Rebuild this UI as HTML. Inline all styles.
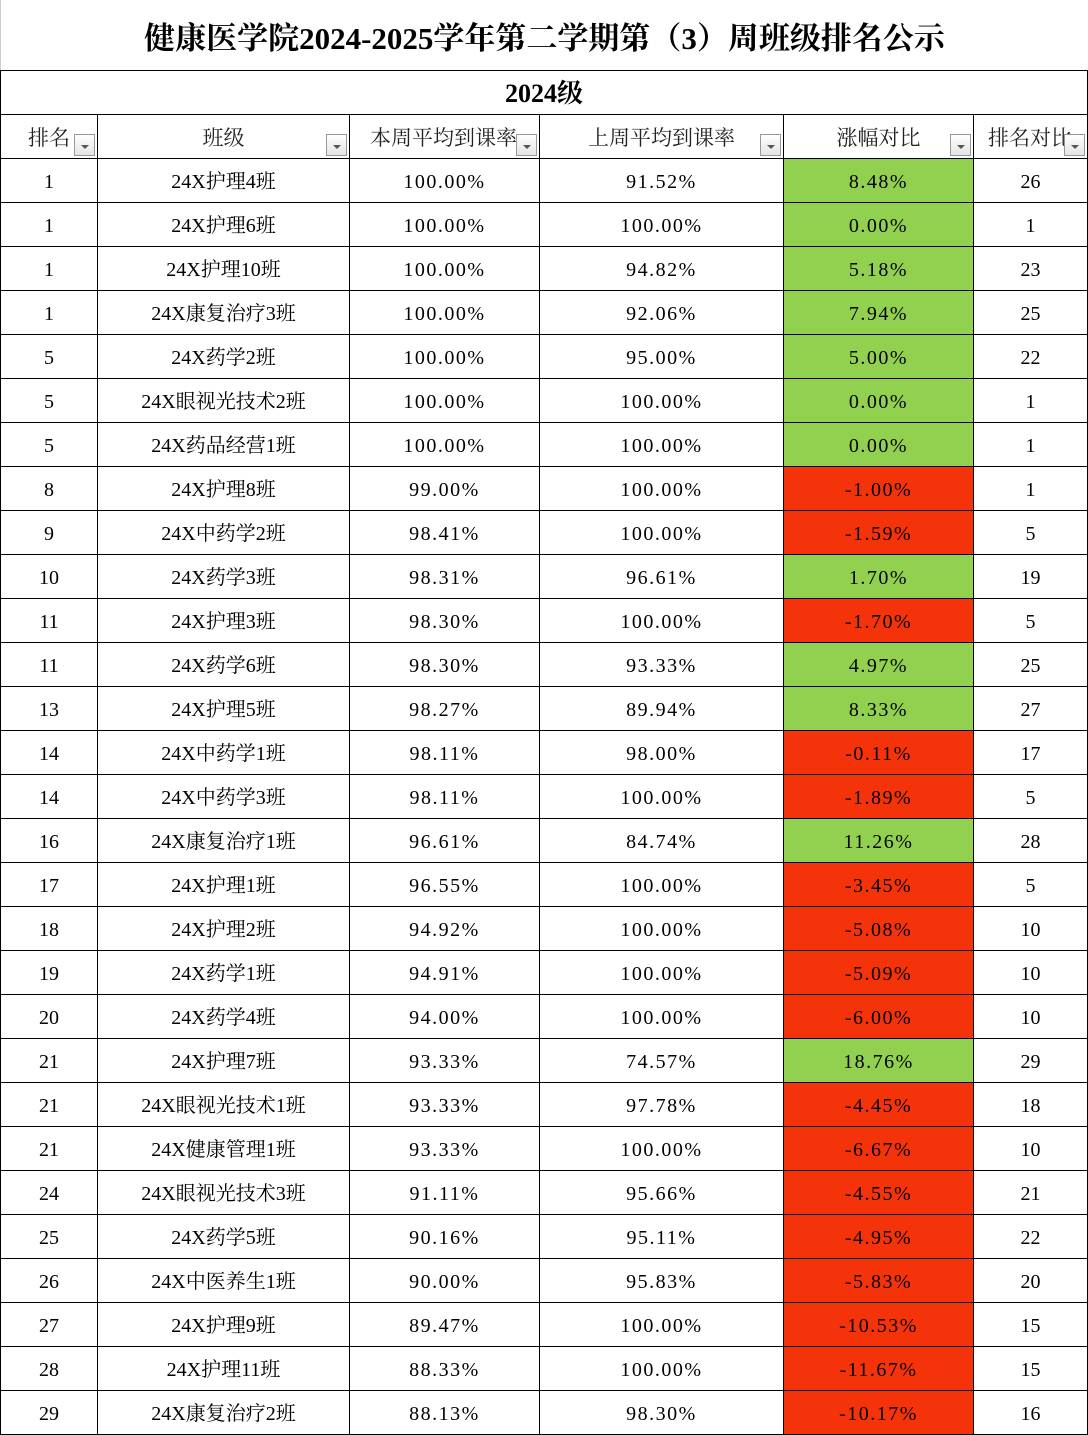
<!DOCTYPE html>
<html><head><meta charset="utf-8"><style>
body{margin:0;background:#fff;width:1088px;height:1435px;overflow:hidden}
.t{position:absolute;left:0;top:0;width:1088px;height:70px;border-left:1px solid #ccc;box-sizing:border-box;font:bold 31px "Liberation Serif","Noto Serif CJK SC",serif;text-align:center;line-height:78px;color:#000}
table{position:absolute;left:0;top:70px;border-collapse:collapse;table-layout:fixed;width:1087px;font:20px "Liberation Serif","Noto Serif CJK SC",serif;color:#000}
td{border:1.5px solid #000;text-align:center;height:40px;padding:3px 0 0 0;line-height:40px;white-space:nowrap;overflow:hidden;position:relative}
tr.g td{font-size:26px;font-weight:bold}
tr.h td{font-size:21px;color:#222}
.n{letter-spacing:1.5px}
.G{background:#92d050}.R{background:#f5330a}
.dd{position:absolute;right:2px;bottom:2px;width:21px;height:22px;border:1px solid #999;background:linear-gradient(#fff,#e4e4e4);box-sizing:border-box}
.dd:after{content:"";position:absolute;left:6px;top:10px;border-left:4px solid transparent;border-right:4px solid transparent;border-top:4px solid #555}
</style></head><body>
<div class="t">健康医学院2024-2025学年第二学期第（3）周班级排名公示</div>
<table>
<colgroup><col style="width:97px"><col style="width:252px"><col style="width:190px"><col style="width:244px"><col style="width:190px"><col style="width:114px"></colgroup>
<tr class="g"><td colspan="6">2024级</td></tr>
<tr class="h"><td>排名<span class="dd"></span></td><td>班级<span class="dd"></span></td><td style="text-align:left;padding-left:20px">本周平均到课率<span class="dd"></span></td><td>上周平均到课率<span class="dd"></span></td><td>涨幅对比<span class="dd"></span></td><td style="text-align:left;padding-left:14px">排名对比<span class="dd"></span></td></tr>
<tr><td>1</td><td>24X护理4班</td><td class="n">100.00%</td><td class="n">91.52%</td><td class="n G">8.48%</td><td>26</td></tr>
<tr><td>1</td><td>24X护理6班</td><td class="n">100.00%</td><td class="n">100.00%</td><td class="n G">0.00%</td><td>1</td></tr>
<tr><td>1</td><td>24X护理10班</td><td class="n">100.00%</td><td class="n">94.82%</td><td class="n G">5.18%</td><td>23</td></tr>
<tr><td>1</td><td>24X康复治疗3班</td><td class="n">100.00%</td><td class="n">92.06%</td><td class="n G">7.94%</td><td>25</td></tr>
<tr><td>5</td><td>24X药学2班</td><td class="n">100.00%</td><td class="n">95.00%</td><td class="n G">5.00%</td><td>22</td></tr>
<tr><td>5</td><td>24X眼视光技术2班</td><td class="n">100.00%</td><td class="n">100.00%</td><td class="n G">0.00%</td><td>1</td></tr>
<tr><td>5</td><td>24X药品经营1班</td><td class="n">100.00%</td><td class="n">100.00%</td><td class="n G">0.00%</td><td>1</td></tr>
<tr><td>8</td><td>24X护理8班</td><td class="n">99.00%</td><td class="n">100.00%</td><td class="n R">-1.00%</td><td>1</td></tr>
<tr><td>9</td><td>24X中药学2班</td><td class="n">98.41%</td><td class="n">100.00%</td><td class="n R">-1.59%</td><td>5</td></tr>
<tr><td>10</td><td>24X药学3班</td><td class="n">98.31%</td><td class="n">96.61%</td><td class="n G">1.70%</td><td>19</td></tr>
<tr><td>11</td><td>24X护理3班</td><td class="n">98.30%</td><td class="n">100.00%</td><td class="n R">-1.70%</td><td>5</td></tr>
<tr><td>11</td><td>24X药学6班</td><td class="n">98.30%</td><td class="n">93.33%</td><td class="n G">4.97%</td><td>25</td></tr>
<tr><td>13</td><td>24X护理5班</td><td class="n">98.27%</td><td class="n">89.94%</td><td class="n G">8.33%</td><td>27</td></tr>
<tr><td>14</td><td>24X中药学1班</td><td class="n">98.11%</td><td class="n">98.00%</td><td class="n R">-0.11%</td><td>17</td></tr>
<tr><td>14</td><td>24X中药学3班</td><td class="n">98.11%</td><td class="n">100.00%</td><td class="n R">-1.89%</td><td>5</td></tr>
<tr><td>16</td><td>24X康复治疗1班</td><td class="n">96.61%</td><td class="n">84.74%</td><td class="n G">11.26%</td><td>28</td></tr>
<tr><td>17</td><td>24X护理1班</td><td class="n">96.55%</td><td class="n">100.00%</td><td class="n R">-3.45%</td><td>5</td></tr>
<tr><td>18</td><td>24X护理2班</td><td class="n">94.92%</td><td class="n">100.00%</td><td class="n R">-5.08%</td><td>10</td></tr>
<tr><td>19</td><td>24X药学1班</td><td class="n">94.91%</td><td class="n">100.00%</td><td class="n R">-5.09%</td><td>10</td></tr>
<tr><td>20</td><td>24X药学4班</td><td class="n">94.00%</td><td class="n">100.00%</td><td class="n R">-6.00%</td><td>10</td></tr>
<tr><td>21</td><td>24X护理7班</td><td class="n">93.33%</td><td class="n">74.57%</td><td class="n G">18.76%</td><td>29</td></tr>
<tr><td>21</td><td>24X眼视光技术1班</td><td class="n">93.33%</td><td class="n">97.78%</td><td class="n R">-4.45%</td><td>18</td></tr>
<tr><td>21</td><td>24X健康管理1班</td><td class="n">93.33%</td><td class="n">100.00%</td><td class="n R">-6.67%</td><td>10</td></tr>
<tr><td>24</td><td>24X眼视光技术3班</td><td class="n">91.11%</td><td class="n">95.66%</td><td class="n R">-4.55%</td><td>21</td></tr>
<tr><td>25</td><td>24X药学5班</td><td class="n">90.16%</td><td class="n">95.11%</td><td class="n R">-4.95%</td><td>22</td></tr>
<tr><td>26</td><td>24X中医养生1班</td><td class="n">90.00%</td><td class="n">95.83%</td><td class="n R">-5.83%</td><td>20</td></tr>
<tr><td>27</td><td>24X护理9班</td><td class="n">89.47%</td><td class="n">100.00%</td><td class="n R">-10.53%</td><td>15</td></tr>
<tr><td>28</td><td>24X护理11班</td><td class="n">88.33%</td><td class="n">100.00%</td><td class="n R">-11.67%</td><td>15</td></tr>
<tr><td>29</td><td>24X康复治疗2班</td><td class="n">88.13%</td><td class="n">98.30%</td><td class="n R">-10.17%</td><td>16</td></tr>
</table>
</body></html>
